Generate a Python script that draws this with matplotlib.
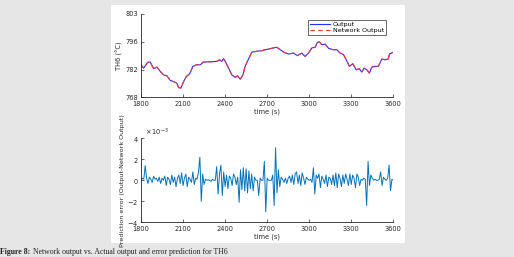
import numpy as np
import matplotlib
matplotlib.use('Agg')
import matplotlib.pyplot as plt
from matplotlib.patches import Rectangle
from matplotlib.ticker import ScalarFormatter

# top panel: TH6 output
t_out = [1800, 1819, 1847, 1866, 1890, 1914, 1938, 1961, 1985, 2009, 2033, 2056, 2068, 2085,
         2104, 2123, 2147, 2170, 2199, 2223, 2246, 2294, 2341, 2360, 2377, 2389, 2401, 2425,
         2448, 2472, 2489, 2508, 2527, 2543, 2567, 2591, 2627, 2662, 2686, 2709, 2745, 2769,
         2793, 2821, 2852, 2888, 2916, 2947, 2971, 2995, 3019, 3042, 3059, 3073, 3090, 3114,
         3138, 3169, 3197, 3221, 3245, 3264, 3287, 3311, 3335, 3358, 3375, 3392, 3411, 3430,
         3446, 3470, 3494, 3518, 3542, 3565, 3572, 3596]
th6_out = [784.4, 782.7, 785.6, 785.8, 782.4, 783.2, 781.0, 779.3, 778.8, 776.5, 775.9, 775.1,
           772.9, 772.7, 775.9, 778.5, 779.8, 783.6, 784.4, 784.4, 785.8, 785.9, 786.1, 786.9,
           786.1, 787.4, 786.1, 782.7, 779.3, 778.1, 778.8, 777.1, 779.3, 783.6, 787.3, 790.8,
           791.2, 791.5, 792.0, 792.3, 792.9, 793.2, 792.0, 790.7, 789.8, 790.3, 789.0, 790.3,
           788.6, 790.3, 792.9, 793.2, 795.7, 795.9, 794.5, 794.8, 792.7, 792.0, 792.0, 790.3,
           789.5, 786.9, 783.6, 784.9, 781.9, 782.4, 780.7, 782.7, 781.9, 780.2, 783.2, 783.6,
           783.6, 787.3, 786.9, 787.4, 789.8, 790.6]
# network output differs only by ~1e-3, same values at this scale
th6_net = list(th6_out)

# bottom panel: prediction error, x 1e-3, every 10 s
t_err = np.arange(1800, 3601, 10)
err_e3 = [0, 0.2, 0.1, 1.4, 0.2, -0.3, 0.3, 0.1, -0.2, 0.4,
          0.1, 0.2, -0.1, 0.3, -0.3, 0.2, 0, 0.4, -0.5, 0.3,
          0.1, -0.4, 0.5, -0.2, 0.3, -0.6, 0.2, 0.5, -0.3, 0.7,
          -0.5, 0.2, 0.6, -0.6, 0.3, 0.1, -0.2, 0.8, -0.4, 0.2,
          0.1, 0.8, 2.2, -2.0, 0.6, -0.4, 0.1, 0, 0.05, 0,
          -0.1, 0.1, 0, 0, 1.3, -1.3, 0.6, 1.45, -1.45, 0.8,
          -0.6, 0.5, -0.8, 0.4, 0.2, -0.5, 0.6, 0.3, -0.4, 0.3,
          -2.1, 1.0, -0.9, 1.2, -1.0, 1.1, -1.2, 0.9, -0.8, 0.6,
          -1.0, 0.3, 0, 0, -1.45, 0.2, 0, 0, 1.8, -3.0,
          0.2, 0, 0, 0, 0.5, -2.4, 3.1, -1.2, 1.0, -0.6,
          0.3, 0.1, -0.2, 0.2, -0.3, 0.2, 0.4, -0.2, 0.5, -0.4,
          0.6, 0.8, -0.3, 0.5, -0.5, 0.7, 0.2, -0.4, 0.3, 0.1,
          0, 0.1, -0.2, 1.2, -1.3, 0.5, 0.2, 0.6, -0.7, 0.4,
          0.1, -0.3, 0.5, -0.6, 0.3, 0.2, -0.4, 0.5, -0.5, 0.7,
          -0.7, 0.6, 0.2, -0.6, 0.5, -0.3, 0.6, 0.1, -0.5, 0.6,
          -0.4, 0.5, 0.2, -0.7, 0.6, 0.3, -0.5, 0.1, 0, 0.2,
          0.1, -2.4, 1.8, -0.5, 0.5, 0.2, 0, 0.1, 0, 0,
          0.1, 0.8, -0.5, 0.3, 0.1, 0, 0.2, 1.45, -1.0, 0.1,
          0]
err = np.array(err_e3) * 1e-3

x_ticks = [1800, 2100, 2400, 2700, 3000, 3300, 3600]
top_ticks = [768, 782, 796, 810]
top_tick_labels = ['768', '782', '796', '803']
err_ticks = [-0.004, -0.002, 0, 0.002, 0.004]

W, H = 514, 257
fig = plt.figure(figsize=(W / 100, H / 100), dpi=100)
fig.patch.set_facecolor('#e6e6e6')
fig.patches.append(Rectangle((111 / W, 1 - 243 / H), 294 / W, 238 / H,
                             transform=fig.transFigure, facecolor='white',
                             edgecolor='none', zorder=-5))

axcol = '#262626'
fs = 4.8


def style(ax):
    for s in ['top', 'right']:
        ax.spines[s].set_visible(False)
    for s in ['left', 'bottom']:
        ax.spines[s].set_color(axcol)
        ax.spines[s].set_linewidth(0.6)
    ax.set_facecolor('none')
    ax.tick_params(direction='in', length=2, width=0.5, labelsize=fs,
                   colors=axcol, pad=1.8)
    ax.tick_params(axis='x', pad=2.8)
    ax.set_xlim(1800, 3600)
    ax.set_xticks(x_ticks)
    ax.set_xlabel('time (s)', fontsize=fs, color=axcol, labelpad=1.0)


ax1 = fig.add_axes([141 / W, 1 - 97.3 / H, 252.3 / W, 83.3 / H])
style(ax1)
ax1.plot(t_out, th6_out, color='#2b2bff', lw=0.8, label='Output')
ax1.plot(t_out, th6_net, color='#ff3030', lw=0.8, ls=(0, (4, 3)), label='Network Output')
ax1.set_ylim(768, 810)
ax1.set_yticks(top_ticks)
ax1.set_yticklabels(top_tick_labels)
ax1.set_ylabel('TH6 (°C)', fontsize=fs, color=axcol, labelpad=2)
leg = ax1.legend(loc='upper right', bbox_to_anchor=(0.97, 0.93), fontsize=4.6,
                 frameon=True, fancybox=False, handlelength=3.2, borderpad=0.25,
                 labelspacing=0.1, handletextpad=0.4, borderaxespad=0)
leg.get_frame().set_edgecolor(axcol)
leg.get_frame().set_linewidth(0.6)

ax2 = fig.add_axes([141 / W, 1 - 222.3 / H, 252.3 / W, 84 / H])
style(ax2)
ax2.plot(t_err, err, color='#0072BD', lw=0.7)
ax2.set_ylim(-0.004, 0.004)
ax2.set_yticks(err_ticks)
fmt = ScalarFormatter(useMathText=True)
fmt.set_powerlimits((-2, 2))
ax2.yaxis.set_major_formatter(fmt)
ax2.yaxis.get_offset_text().set_visible(False)
ax2.text(0.015, 1.0, r'$\times\,10^{-3}$', transform=ax2.transAxes, fontsize=fs,
         color=axcol, ha='left', va='bottom')
ax2.set_ylabel('Prediction error (Output-Network Output)', fontsize=4.6, color=axcol,
               labelpad=1.5)

# caption, partly cut at the bottom edge like the source
cap_fs = 5.6
bold = fig.text(0.5 / W, 1 - 248.5 / H, 'Figure 8:', fontsize=cap_fs,
                family='Liberation Serif', fontweight='bold', va='top', ha='left',
                color='#222222')
fig.canvas.draw()
bb = bold.get_window_extent()
fig.text((bb.x1 + 2) / W, 1 - 248.5 / H,
         'Network output vs. Actual output and error prediction for TH6',
         fontsize=cap_fs, family='Liberation Serif', va='top', ha='left', color='#222222')

fig.savefig('out.png', dpi=100, facecolor=fig.get_facecolor())
